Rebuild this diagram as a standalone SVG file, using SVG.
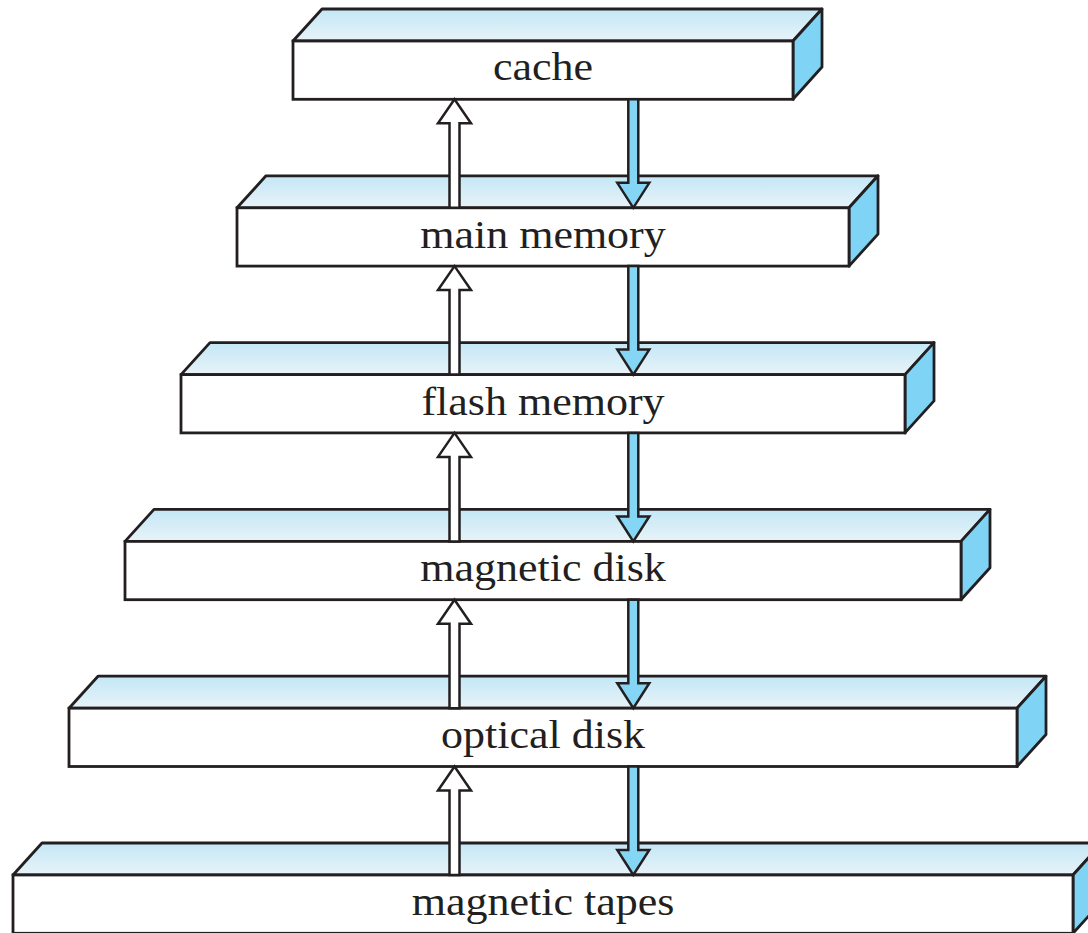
<svg xmlns="http://www.w3.org/2000/svg" width="1088" height="933" viewBox="0 0 1088 933">
<defs>
<linearGradient id="topg" x1="0" y1="0" x2="0" y2="1">
<stop offset="0" stop-color="#c3e7f6"/>
<stop offset="1" stop-color="#e8f3f8"/>
</linearGradient>
<style>
.front{fill:#ffffff;stroke:#231f20;stroke-width:2.8}
.top{fill:url(#topg);stroke:#231f20;stroke-width:2.8;stroke-linejoin:round}
.side{fill:#7fd4f5;stroke:#231f20;stroke-width:2.8;stroke-linejoin:round}
.lbl{font-family:"Liberation Serif","Times New Roman",serif;font-size:40px;fill:#231f20;text-anchor:middle}
.up{fill:#ffffff;stroke:#231f20;stroke-width:2.5;stroke-linejoin:miter}
.down{fill:#85d5f4;stroke:#231f20;stroke-width:2.5;stroke-linejoin:miter}
</style>
</defs>
<rect width="1088" height="933" fill="#ffffff"/>

<g id="cache">
<polygon class="top" points="293,41 322,9 822,9 793,41"/>
<polygon class="side" points="793,41 822,9 822,67 793,99.3"/>
<rect class="front" x="293" y="41" width="500" height="58.3"/>
<text class="lbl" transform="translate(543,79.5) scale(1.1,1)">cache</text>
</g>

<g id="main-memory">
<polygon class="top" points="237,207.8 266,175.8 878,175.8 849,207.8"/>
<polygon class="side" points="849,207.8 878,175.8 878,234.1 849,266.1"/>
<rect class="front" x="237" y="207.8" width="612" height="58.3"/>
<text class="lbl" transform="translate(543,247.8) scale(1.1,1)">main memory</text>
</g>

<g id="flash-memory">
<polygon class="top" points="181,374.6 210,342.6 934,342.6 905,374.6"/>
<polygon class="side" points="905,374.6 934,342.6 934,400.9 905,432.9"/>
<rect class="front" x="181" y="374.6" width="724" height="58.3"/>
<text class="lbl" transform="translate(543,414.6) scale(1.1,1)">flash memory</text>
</g>

<g id="magnetic-disk">
<polygon class="top" points="125,541.4 154,509.4 990,509.4 961,541.4"/>
<polygon class="side" points="961,541.4 990,509.4 990,567.7 961,599.7"/>
<rect class="front" x="125" y="541.4" width="836" height="58.3"/>
<text class="lbl" transform="translate(543,581.4) scale(1.1,1)">magnetic disk</text>
</g>

<g id="optical-disk">
<polygon class="top" points="69,708.2 98,676.2 1046,676.2 1017,708.2"/>
<polygon class="side" points="1017,708.2 1046,676.2 1046,734.5 1017,766.5"/>
<rect class="front" x="69" y="708.2" width="948" height="58.3"/>
<text class="lbl" transform="translate(543,748.2) scale(1.1,1)">optical disk</text>
</g>

<g id="magnetic-tapes">
<polygon class="top" points="13,875 42,843 1102,843 1073,875"/>
<polygon class="side" points="1073,875 1102,843 1102,901.3 1073,933.3"/>
<rect class="front" x="13" y="875" width="1060" height="58.3"/>
<text class="lbl" transform="translate(543,915) scale(1.1,1)">magnetic tapes</text>
</g>

<g id="connectors">
<polygon class="up" points="449.5,207.8 449.5,123.3 438,123.3 454.5,99.3 471,123.3 459.5,123.3 459.5,207.8"/>
<polygon class="down" points="628.3,99.3 638.3,99.3 638.3,182.8 649.3,182.8 633.3,207.8 617.3,182.8 628.3,182.8"/>

<polygon class="up" points="449.5,374.6 449.5,290.1 438,290.1 454.5,266.1 471,290.1 459.5,290.1 459.5,374.6"/>
<polygon class="down" points="628.3,266.1 638.3,266.1 638.3,349.6 649.3,349.6 633.3,374.6 617.3,349.6 628.3,349.6"/>

<polygon class="up" points="449.5,541.4 449.5,456.9 438,456.9 454.5,432.9 471,456.9 459.5,456.9 459.5,541.4"/>
<polygon class="down" points="628.3,432.9 638.3,432.9 638.3,516.4 649.3,516.4 633.3,541.4 617.3,516.4 628.3,516.4"/>

<polygon class="up" points="449.5,708.2 449.5,623.7 438,623.7 454.5,599.7 471,623.7 459.5,623.7 459.5,708.2"/>
<polygon class="down" points="628.3,599.7 638.3,599.7 638.3,683.2 649.3,683.2 633.3,708.2 617.3,683.2 628.3,683.2"/>

<polygon class="up" points="449.5,875 449.5,790.5 438,790.5 454.5,766.5 471,790.5 459.5,790.5 459.5,875"/>
<polygon class="down" points="628.3,766.5 638.3,766.5 638.3,850 649.3,850 633.3,875 617.3,850 628.3,850"/>
</g>
</svg>
